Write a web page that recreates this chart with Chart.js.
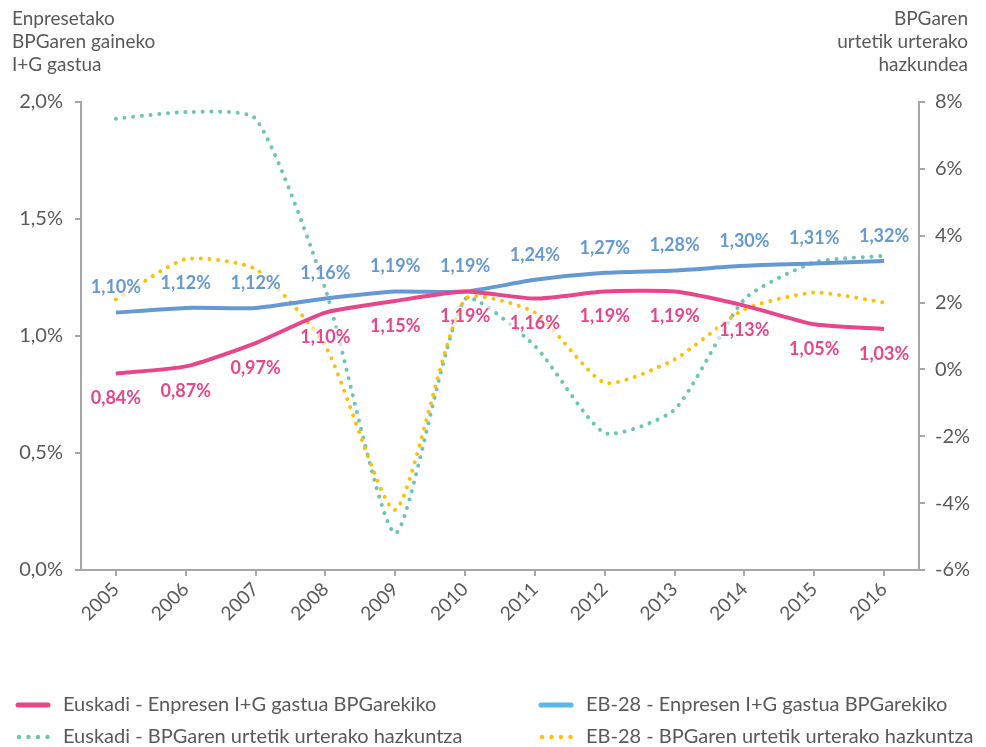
<!DOCTYPE html>
<html><head><meta charset="utf-8">
<script src="https://cdn.jsdelivr.net/npm/chart.js@4/dist/chart.umd.min.js"></script>
<style>html,body{margin:0;padding:0;background:#fff}#wrap{width:986px;height:747px}</style>
</head><body><div id="wrap"><canvas id="c" width="986" height="747"></canvas></div>
<script>
const years = ['2005','2006','2007','2008','2009','2010','2011','2012','2013','2014','2015','2016'];
const euskadiRD = [0.84,0.87,0.97,1.10,1.15,1.19,1.16,1.19,1.19,1.13,1.05,1.03];
const eu28RD = [1.10,1.12,1.12,1.16,1.19,1.19,1.24,1.27,1.28,1.30,1.31,1.32];
const euskadiGDP = [7.5,7.7,7.5,2.4,-4.9,2.1,0.7,-1.9,-1.2,2.1,3.2,3.4];
const eu28GDP = [2.1,3.3,3.0,0.7,-4.2,2.1,1.7,-0.4,0.3,1.8,2.3,2.0];
const leftTicks = [0,0.5,1.0,1.5,2.0];
const rightTicks = [-6,-4,-2,0,2,4,6,8];
const seriesNames = ['Euskadi - Enpresen I+G gastua BPGarekiko','EB-28 - Enpresen I+G gastua BPGarekiko','Euskadi - BPGaren urtetik urterako hazkuntza','EB-28 - BPGaren urtetik urterako hazkuntza'];
const leftTitle = ['Enpresetako','BPGaren gaineko','I+G gastua'];
const rightTitle = ['BPGaren','urtetik urterako','hazkundea'];

const PINK='#E8458B', BLUE='#6699D3', TEAL='#6CC4B3', YELLOW='#FFC000', LEGBLUE='#5DB7E8';
const FONT='Lato';
const fmt = v => v.toFixed(2).replace('.',',')+'%';

const labelPlugin = {
  id:'labels',
  afterDatasetsDraw(chart){
    const ctx=chart.ctx;
    ctx.save();
    ctx.font='bold 18px '+FONT;
    ctx.textAlign='center'; ctx.textBaseline='middle';
    [[0,25,PINK,euskadiRD],[1,-25,BLUE,eu28RD]].forEach(([di,off,col,vals])=>{
      const meta=chart.getDatasetMeta(di);
      meta.data.forEach((p,i)=>{
        const t=fmt(vals[i]);
        const w=ctx.measureText(t).width;
        ctx.fillStyle='rgba(255,255,255,0.6)';
        ctx.fillRect(p.x-w/2-2,p.y+off-10,w+4,20);
        ctx.fillStyle=col;
        ctx.fillText(t,p.x,p.y+off);
      });
    });
    ctx.restore();
  },
  afterDraw(chart){
    const ctx=chart.ctx;
    ctx.save();
    ctx.font='19px '+FONT; ctx.fillStyle='#595959'; ctx.textBaseline='middle';
    ctx.textAlign='left';
    leftTitle.forEach((t,i)=>ctx.fillText(t,12,19+i*23));
    ctx.textAlign='right';
    rightTitle.forEach((t,i)=>ctx.fillText(t,968,19+i*23));
    const cols=[PINK,LEGBLUE,TEAL,YELLOW];
    const pos=[[15,705],[538,705],[15,737],[538,737]];
    ctx.textAlign='left';
    ctx.font='20px '+FONT;
    seriesNames.forEach((n,i)=>{
      const [x,y]=pos[i];
      ctx.strokeStyle=cols[i]; ctx.lineCap='round';
      if(i<2){ctx.lineWidth=5;ctx.setLineDash([]);ctx.beginPath();ctx.moveTo(x+3,y);ctx.lineTo(x+33,y);ctx.stroke();}
      else{ctx.fillStyle=cols[i];for(let k=0;k<4;k++){ctx.beginPath();ctx.arc(x+4+k*9.5,y,2.2,0,Math.PI*2);ctx.fill();}}
      ctx.fillStyle='#595959';
      ctx.fillText(n,x+48,y);
    });
    ctx.restore();
  }
};

new Chart(document.getElementById('c'),{
  type:'line',
  data:{labels:years,datasets:[
    {label:seriesNames[0],data:euskadiRD,yAxisID:'y',borderColor:PINK,borderWidth:4,tension:0.2,pointRadius:0,order:1},
    {label:seriesNames[1],data:eu28RD,yAxisID:'y',borderColor:BLUE,borderWidth:4,tension:0.2,pointRadius:0,order:2},
    {label:seriesNames[2],data:euskadiGDP,yAxisID:'y2',borderColor:TEAL,borderWidth:4,borderDash:[0.01,8.7],borderCapStyle:'round',tension:0.2,pointRadius:0,order:4},
    {label:seriesNames[3],data:eu28GDP,yAxisID:'y2',borderColor:YELLOW,borderWidth:4,borderDash:[0.01,8.7],borderCapStyle:'round',tension:0.2,pointRadius:0,order:3}
  ]},
  options:{
    responsive:false,animation:false,
    layout:{padding:{top:102,left:0,right:0,bottom:0}},
    plugins:{legend:{display:false},tooltip:{enabled:false}},
    scales:{
      x:{offset:true,
        grid:{drawOnChartArea:false,drawTicks:true,tickLength:6,color:'#A6A6A6',lineWidth:2,offset:false},
        border:{color:'#A6A6A6',width:2},
        ticks:{minRotation:45,maxRotation:45,color:'#595959',font:{family:FONT,size:19},padding:2},
        afterFit(s){s.height=177;}
      },
      y:{position:'left',min:0,max:2,
        afterBuildTicks(s){s.ticks=leftTicks.map(v=>({value:v}));},
        grid:{drawOnChartArea:false,drawTicks:true,tickLength:6,color:'#A6A6A6',lineWidth:2},
        border:{color:'#A6A6A6',width:2},
        ticks:{color:'#595959',font:{family:FONT,size:20},padding:12,callback:v=>v.toFixed(1).replace('.',',')+'%'},
        afterFit(s){s.width=81;}
      },
      y2:{position:'right',min:-6,max:8,
        afterBuildTicks(s){s.ticks=rightTicks.map(v=>({value:v}));},
        grid:{drawOnChartArea:false,drawTicks:true,tickLength:6,color:'#A6A6A6',lineWidth:2},
        border:{color:'#A6A6A6',width:2},
        ticks:{color:'#595959',font:{family:FONT,size:20},padding:10,callback:v=>v+'%'},
        afterFit(s){s.width=67;}
      }
    }
  },
  plugins:[labelPlugin]
});
</script></body></html>
